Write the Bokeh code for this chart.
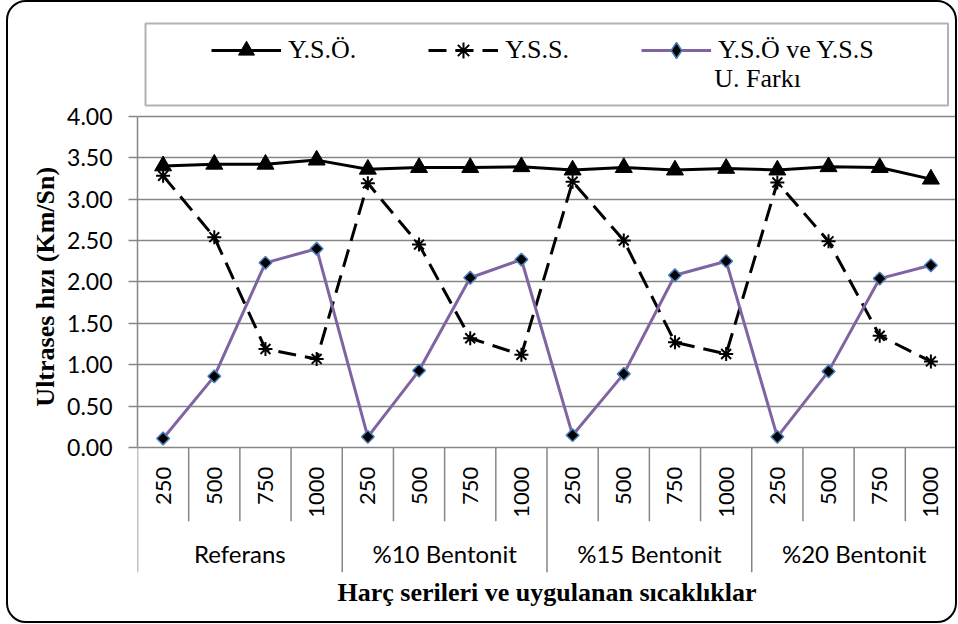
import math
from bokeh.plotting import figure
from bokeh.models import (Range1d, FixedTicker, Legend, LegendItem, Label,
                          BoxAnnotation, NumeralTickFormatter)
from bokeh.core.properties import value
from bokeh.embed import file_html
from bokeh.resources import INLINE

# ---------------- data ----------------
groups = ["Referans", "%10 Bentonit", "%15 Bentonit", "%20 Bentonit"]
temps = ["250", "500", "750", "1000"]
yso = [3.40, 3.42, 3.42, 3.47, 3.36, 3.38, 3.38, 3.39,
       3.35, 3.38, 3.35, 3.37, 3.35, 3.39, 3.38, 3.24]
yss = [3.28, 2.54, 1.19, 1.07, 3.19, 2.45, 1.32, 1.12,
       3.21, 2.50, 1.27, 1.13, 3.20, 2.49, 1.35, 1.04]
fark = [0.11, 0.86, 2.23, 2.40, 0.13, 0.93, 2.05, 2.27,
        0.15, 0.89, 2.08, 2.25, 0.13, 0.92, 2.04, 2.20]
y_ticks = [0.0, 0.5, 1.0, 1.5, 2.0, 2.5, 3.0, 3.5, 4.0]
legend_labels = ["Y.S.Ö.", "Y.S.S.", "Y.S.Ö ve Y.S.S"]
legend_label_line2 = "U. Farkı"
x_title = "Harç serileri ve uygulanan sıcaklıklar"
y_title = "Ultrases hızı  (Km/Sn)"

# ---------------- layout ----------------
n_t = len(temps)
n = len(groups) * n_t
xs = [i + 0.5 for i in range(n)]
x_labels = temps * len(groups)
group_x = [g * n_t + n_t / 2 for g in range(len(groups))]

W, H = 951, 623                 # outer size (2px CSS border inside)
ML, MR, MT, MB = 129, 3, 18, 53
frame_w = (W - 4) - ML - MR
PX = 82.25                      # pixels per y unit
XPX = frame_w / n               # pixels per category
y_top = 424 / PX                # frame extends above 4.00 to hold the legend box
y_bot = y_top - ((H - 4) - MT - MB) / PX   # and below 0 for the category labels
tick_label_y = -19 / PX
short_sep_y = -73 / PX
group_label_y = -105 / PX

GRID = "#868686"
SERIF = "Liberation Serif"
SANS = "Lato"
PURPLE = "#8064A2"
BLUE = "#4A7EBB"

p = figure(width=W, height=H, x_range=Range1d(0, n), y_range=Range1d(y_bot, y_top),
           output_backend="svg", toolbar_location=None,
           min_border_left=ML, min_border_right=MR, min_border_top=MT, min_border_bottom=MB)
p.outline_line_color = None
p.border_fill_alpha = 0
p.background_fill_color = "white"
p.styles = {"border": "2px solid black", "border-radius": "20px", "margin-left": "6px"}

# grid
p.xgrid.visible = False
p.ygrid.ticker = FixedTicker(ticks=y_ticks)
p.ygrid.grid_line_color = GRID
p.ygrid.grid_line_width = 1.5

# y axis
yax = p.yaxis[0]
yax.ticker = FixedTicker(ticks=y_ticks)
yax.bounds = (0, 4)
yax.formatter = NumeralTickFormatter(format="0.00")
yax.major_label_text_font = SANS
yax.major_label_text_font_size = "23px"
yax.major_label_text_color = "black"
yax.major_tick_out = 9
yax.major_tick_in = 0
yax.minor_tick_line_color = None
yax.major_tick_line_color = GRID
yax.major_tick_line_width = 1.5
yax.axis_line_color = GRID
yax.axis_line_width = 1.5
yax.major_label_standoff = 16
# leading no-break spaces nudge the centred title up, level with the 0-4 scale
yax.axis_label = "\u00a0" * 4 + y_title
yax.axis_label_text_font = SERIF
yax.axis_label_text_font_style = "bold"
yax.axis_label_text_font_size = "26px"
yax.axis_label_text_color = "black"
yax.axis_label_standoff = 4

# x axis: only the title
xax = p.xaxis[0]
xax.ticker = FixedTicker(ticks=[])
xax.axis_line_color = None
xax.major_tick_line_color = None
xax.minor_tick_line_color = None
xax.major_tick_out = 0
xax.major_label_standoff = 0
xax.axis_label = x_title
xax.axis_label_text_font = SERIF
xax.axis_label_text_font_style = "bold"
xax.axis_label_text_font_size = "26px"
xax.axis_label_text_color = "black"
xax.axis_label_standoff = 5

# category separators
sep_x = list(range(n + 1))
sep_y1 = [y_bot if i % n_t == 0 else short_sep_y for i in sep_x]
p.segment(x0=sep_x, y0=[0] * len(sep_x), x1=sep_x, y1=sep_y1,
          line_color=GRID, line_width=1.5)
# right edge of plot area
p.segment(x0=[n], y0=[0], x1=[n], y1=[4], line_color="black", line_width=2)

# category labels
p.text(x=xs, y=[tick_label_y] * n, text=x_labels, angle=math.pi / 2,
       text_align="right", text_baseline="middle",
       text_font=value(SANS), text_font_size="22px", text_color="black")
p.text(x=group_x, y=[group_label_y] * len(groups), text=groups,
       text_align="center", text_baseline="middle",
       text_font=value(SANS), text_font_size="24px", text_color="black")

# series
r1 = p.line(xs, yso, line_color="black", line_width=3)
m1 = p.scatter(xs, yso, marker="triangle", size=17, fill_color="black", line_color="black")
r2 = p.line(xs, yss, line_color="black", line_width=3, line_dash="18 9")
m2 = p.scatter(xs, yss, marker="asterisk", size=14, line_color="black", line_width=2)
r3 = p.line(xs, fark, line_color=PURPLE, line_width=3)
m3 = p.scatter(xs, fark, marker="square", angle=math.pi / 4, size=9,
               fill_color="black", line_color=BLUE, line_width=1.5)
# legend proxy (not drawn in the plot: NaN position); the legend ignores marker
# angle, so it shows a diamond there instead of the rotated square
nan = float("nan")
m3_leg = p.scatter(x=[nan], y=[nan], marker="diamond", size=14,
                   fill_color="black", line_color=BLUE, line_width=1.5)

# legend box + legend
box = BoxAnnotation(left=135, right=937.5, top=19, bottom=101,
                    left_units="canvas", right_units="canvas",
                    top_units="canvas", bottom_units="canvas",
                    fill_alpha=0, line_color="black", line_width=2)
p.add_layout(box)

legend = Legend(items=[LegendItem(label=legend_labels[0], renderers=[r1, m1]),
                       LegendItem(label=legend_labels[1], renderers=[r2, m2]),
                       LegendItem(label=legend_labels[2], renderers=[r3, m3_leg])],
                orientation="horizontal", location=(74, 502),
                glyph_width=70, glyph_height=40, label_standoff=7, spacing=72,
                padding=8, border_line_color=None, background_fill_alpha=0,
                label_text_font=SERIF, label_text_font_size="26px",
                label_text_color="black")
p.add_layout(legend)

line2 = Label(x=(711 - 137) / XPX, y=(444 - 77.7) / PX, text=legend_label_line2,
              text_font=SERIF, text_font_size="26px", text_color="black",
              text_baseline="alphabetic", text_align="left")
p.add_layout(line2)

open("out.html", "w").write(file_html(p, INLINE))
